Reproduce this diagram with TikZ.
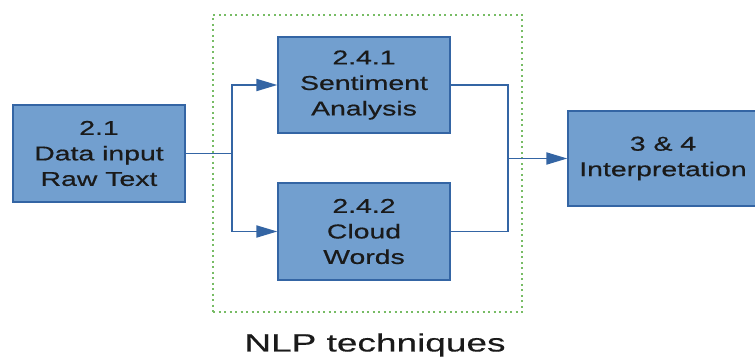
\documentclass[tikz,border=0pt]{standalone}
\usepackage{fontspec}
\setmainfont{Liberation Sans}
\newfontfamily\wide[FakeStretch=1.42,FakeBold=0.6]{Liberation Sans}
\newfontfamily\widelbl[FakeStretch=1.48,FakeBold=0.4]{Liberation Sans}
\usetikzlibrary{arrows.meta}
\definecolor{boxfill}{HTML}{729FCF}
\definecolor{boxline}{HTML}{3465A4}
\definecolor{dotgreen}{HTML}{77BC65}
\definecolor{txt}{HTML}{1A1A1A}
\tikzset{
  blk/.style={draw=boxline, line width=1.3pt, fill=boxfill, minimum width=172pt, minimum height=97pt,
    inner sep=0pt, align=center, text=txt, font=\wide\fontsize{20}{25.5}\selectfont},
  conn/.style={draw=boxline, line width=1.9pt},
  arr/.style={conn, -{Triangle[length=21pt,width=12pt]}},
}
\begin{document}
\begin{tikzpicture}[x=1pt,y=-1pt]
\useasboundingbox (0,0) rectangle (755,361);
\clip (0,0) rectangle (755,361);
\node[draw=dotgreen, line width=2pt, dash pattern=on 2pt off 3.5pt, minimum width=309pt, minimum height=297pt, inner sep=0pt] (grp) at (367.5,163.5) {};
\node[blk] (in) at (99,153.5) {2.1\\Data input\\Raw Text};
\node[blk, minimum height=96pt] (sa) at (364,85) {2.4.1\\Sentiment\\Analysis};
\node[blk] (cw) at (364,231.5) {2.4.2\\Cloud\\Words};
\node[blk, minimum width=190pt, minimum height=95pt] (out) at (663,158.5) {3 \& 4\\Interpretation};
\node[font=\widelbl\fontsize{25}{30}\selectfont, text=txt] (lbl) at (375,345) {NLP techniques};
\coordinate (split) at (232,153.5);
\coordinate (merge) at (508,158.5);
\draw[conn] (in.east) -- (split);
\draw[arr] (split) |- (sa.west);
\draw[arr] (split) |- (cw.west);
\draw[conn] (sa.east) -| (merge);
\draw[conn] (cw.east) -| (merge);
\draw[arr] (merge) -- (out.west);
\end{tikzpicture}
\end{document}
